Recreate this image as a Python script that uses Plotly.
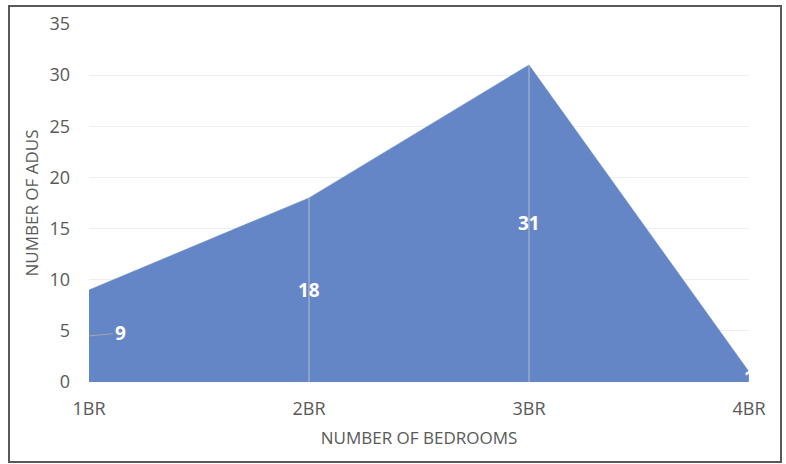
import plotly.graph_objects as go

# ADU counts by bedroom size
bedrooms = ["1BR", "2BR", "3BR", "4BR"]
adus = [9, 18, 31, 1]
y_ticks = [0, 5, 10, 15, 20, 25, 30, 35]

FILL = "#6586C6"
TEXT = "#595959"
FONT = "Open Sans"

fig = go.Figure()
fig.add_trace(go.Scatter(
    x=bedrooms, y=adus, mode="lines", fill="tozeroy",
    fillcolor=FILL, line=dict(color=FILL, width=0.5),
    hoverinfo="x+y",
))

# drop lines at interior categories
for cat, val in zip(bedrooms[1:-1], adus[1:-1]):
    fig.add_shape(type="line", xref="x", yref="y", x0=cat, x1=cat, y0=0, y1=val,
                  line=dict(color="#B4BCCB", width=1), layer="above")

# value labels at half height of the area
for i, (cat, val) in enumerate(zip(bedrooms, adus)):
    if i == 0:
        fig.add_annotation(x=cat, y=val / 2, text=f"<b>{val}</b>", showarrow=True,
                           arrowhead=0, arrowwidth=1, arrowcolor="#A6A6A6",
                           ax=31, ay=-3, xanchor="center",
                           font=dict(family=FONT, size=19, color="white"))
    else:
        fig.add_annotation(x=cat, y=val / 2, text=f"<b>{val}</b>", showarrow=False,
                           font=dict(family=FONT, size=19, color="white"))

# outer frame
fig.add_shape(type="rect", xref="paper", yref="paper",
              x0=-0.1212, x1=1.0485, y0=-0.2235, y1=1.0503,
              line=dict(color="#595959", width=2))

fig.update_layout(
    width=786, height=464,
    margin=dict(l=89, r=37, t=24, b=82),
    paper_bgcolor="white", plot_bgcolor="white",
    showlegend=False,
    font=dict(family=FONT, color=TEXT, size=18),
    xaxis=dict(
        type="category", range=[0, 3], showgrid=False, zeroline=False,
        showline=False, ticklabelstandoff=14,
        title=dict(text="NUMBER OF BEDROOMS", standoff=13,
                   font=dict(family=FONT, size=17, color=TEXT)),
        tickfont=dict(family=FONT, size=18, color=TEXT),
    ),
    yaxis=dict(
        range=[0, 35], tickvals=y_ticks, showgrid=True, gridcolor="#EEEEEE",
        zeroline=False, showline=False, ticklabelstandoff=18,
        title=dict(text="NUMBER OF ADUS", standoff=6,
                   font=dict(family=FONT, size=17, color=TEXT)),
        tickfont=dict(family=FONT, size=18, color=TEXT),
    ),
)

fig.write_html("out.html")
